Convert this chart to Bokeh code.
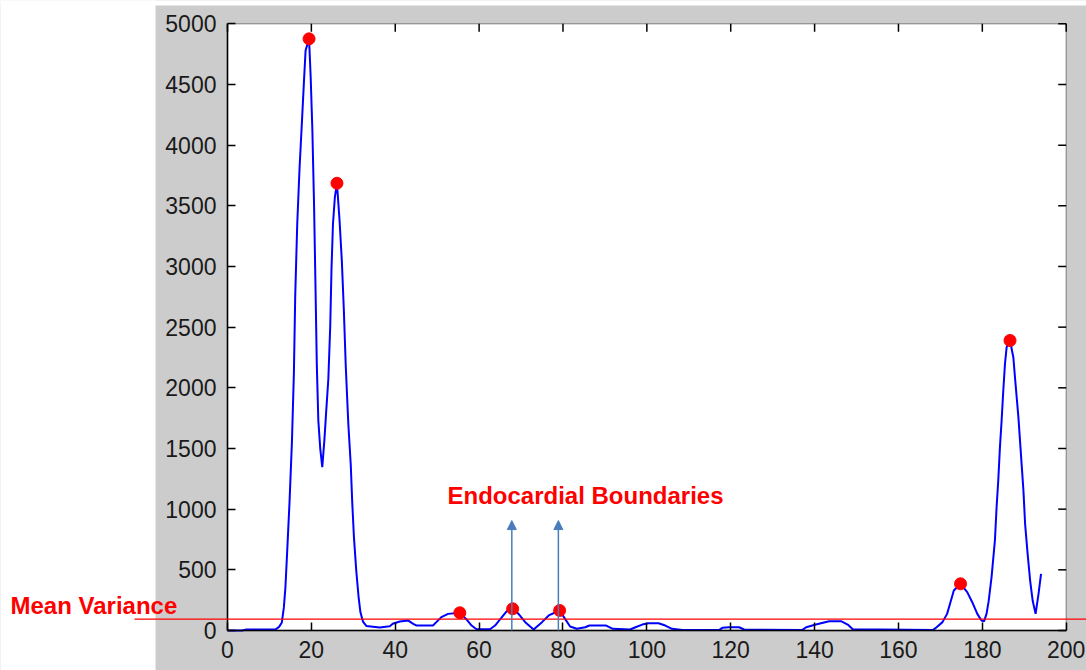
from bokeh.plotting import figure
from bokeh.models import FixedTicker, Range1d, BoxAnnotation, Label, Arrow, NormalHead
from bokeh.embed import file_html
from bokeh.resources import INLINE

# ---- data ----
curve_x = [0, 3.5, 4.5, 8, 11.5, 12.3, 12.96, 13.44, 13.82, 14.23, 14.78, 15.36, 15.84, 16.15,
           16.63, 17.18, 17.76, 18.24, 18.62, 19.45, 19.83, 20.24, 20.65, 21.0, 21.3, 21.66,
           22.14, 22.6, 23.1, 23.5, 24.05, 24.5, 24.8, 25.15, 25.6, 26.1, 26.7, 27.26, 27.74,
           28.2, 28.8, 29.4, 29.74, 30.15, 30.7, 31.25, 31.7, 32.3, 33.1, 36.3, 38.7, 39.4,
           41.1, 43.1, 44.3, 45.1, 49.0, 49.8, 51.0, 52.6, 55.4, 57.0, 58.2, 59.4, 62.6, 63.8,
           65.0, 66.6, 68.0, 69.4, 71.0, 73.0, 75.0, 76.6, 79.2, 80.5, 81.7, 83.3, 85.3, 86.3,
           90.3, 91.9, 96.0, 97.3, 98.9, 100.4, 102.8, 104.4, 106.0, 108.5, 117.3, 118.0,
           119.6, 122.0, 123.2, 137.1, 138.0, 140.3, 143.5, 146.3, 147.9, 149.1, 168.3, 169.1,
           170.5, 171.6, 172.4, 173.2, 174.8, 176.4, 177.6, 178.8, 179.8, 180.4, 181.0, 181.5,
           182.2, 183.0, 183.4, 183.8, 184.2, 184.6, 185.0, 185.4, 185.8, 186.6, 187.4, 187.8,
           188.6, 189.2, 189.8, 190.2, 190.8, 191.4, 192.0, 192.7, 193.4, 194.0]
curve_y = [0, 0, 8, 8, 10, 30, 66, 190, 360, 650, 1050, 1550, 2130, 2760,
           3350, 3810, 4200, 4530, 4780, 4876, 4565, 4120, 3490, 2800, 2185, 1730,
           1490, 1346, 1567, 1785, 2075, 2510, 2980, 3350, 3570, 3686, 3390, 3050, 2645,
           2180, 1710, 1360, 1060, 770, 495, 280, 150, 74, 38, 25, 35, 55,
           74, 82, 55, 41, 41, 69, 110, 137, 146, 91, 41, 10, 10, 41,
           91, 160, 179, 137, 69, 8, 69, 124, 165, 96, 33, 14, 27, 41,
           41, 14, 8, 27, 49, 60, 60, 41, 14, 5, 5, 22,
           27, 27, 8, 5, 27, 49, 77, 77, 49, 11, 5, 27,
           69, 137, 233, 330, 385, 316, 233, 137, 82, 75, 137, 240,
           440, 742, 1016, 1236, 1511, 1731, 1978, 2198, 2335, 2390, 2250, 2080,
           1758, 1456, 1154, 879, 632, 412, 247, 137, 302, 467]
peak_x = [19.45, 26.1, 55.4, 68.0, 79.2, 174.8, 186.6]
peak_y = [4876, 3686, 146, 179, 165, 385, 2390]
mean_variance = 94
boundary_x = [67.8, 78.9]
boundary_top = 906
x_ticks = list(range(0, 201, 20))
y_ticks = list(range(0, 5001, 500))

# ---- layout (pixels) ----
W, H = 1086, 670
PL, PR, PT, PB = 227.0, 1065.7, 23.3, 630.0   # white axes box
X0, X1, Y0, Y1 = 0, 200, 0, 5000
sx = (PR - PL) / (X1 - X0)
sy = (PB - PT) / (Y1 - Y0)
x_start, x_end = X0 - PL / sx, X1 + (W - PR) / sx
y_start, y_end = Y0 - (H - PB) / sy, Y1 + PT / sy


def px_x(px):
    return X0 + (px - PL) / sx


def px_y(py):
    return Y0 + (PB - py) / sy


GRAY = "#cccccc"
FONT = "Liberation Sans"

p = figure(width=W, height=H, output_backend="svg", toolbar_location=None,
           x_range=Range1d(x_start, x_end), y_range=Range1d(y_start, y_end),
           min_border_left=0, min_border_right=0, min_border_top=0, min_border_bottom=0,
           border_fill_color=GRAY, background_fill_color=GRAY, outline_line_color=None)
p.grid.visible = False

# white page areas (left strip and thin top strip) and the white axes box
p.add_layout(BoxAnnotation(left=x_start - 10, right=px_x(155), bottom=y_start - 500, top=y_end + 500,
                           fill_color="white", fill_alpha=1.0, line_color=None, level="underlay"))
p.add_layout(BoxAnnotation(left=x_start - 10, right=x_end + 10, bottom=px_y(5), top=y_end + 500,
                           fill_color="white", fill_alpha=1.0, line_color=None, level="underlay"))
p.add_layout(BoxAnnotation(left=X0, right=X1, bottom=Y0, top=Y1,
                           fill_color="white", fill_alpha=1.0, line_color="#000000",
                           line_width=1.5, level="underlay"))


def style_axis(ax, ticks, bounds, standoff):
    ax.fixed_location = 0
    ax.bounds = bounds
    ax.ticker = FixedTicker(ticks=ticks)
    ax.major_tick_in = 8
    ax.major_tick_out = 0
    ax.minor_tick_line_color = None
    ax.axis_line_color = "#000000"
    ax.axis_line_width = 1.5
    ax.major_tick_line_color = "#000000"
    ax.major_tick_line_width = 1.5
    ax.major_label_text_font = FONT
    ax.major_label_text_font_size = "23px"
    ax.major_label_text_color = "#1a1a1a"
    ax.major_label_standoff = standoff


style_axis(p.xaxis[0], x_ticks, (X0, X1), 10)
style_axis(p.yaxis[0], y_ticks, (Y0, Y1), 11)

# mirrored (inside) ticks on the top and right edges of the box
tick_dx, tick_dy = 8 / sx, 8 / sy
p.segment(x0=x_ticks, y0=[Y1] * len(x_ticks), x1=x_ticks, y1=[Y1 - tick_dy] * len(x_ticks),
          line_color="#000000", line_width=1.5)
p.segment(x0=[X1] * len(y_ticks), y0=y_ticks, x1=[X1 - tick_dx] * len(y_ticks), y1=y_ticks,
          line_color="#000000", line_width=1.5)

p.line(curve_x, curve_y, line_color="#0000ff", line_width=2)
p.scatter(peak_x, peak_y, size=12, color="#ff0000")

# mean variance line and label
p.add_layout(Arrow(end=None, x_start=px_x(134), y_start=mean_variance, x_end=x_end + 5,
                   y_end=mean_variance, line_color="#ff0000", line_width=1.2))
p.add_layout(Label(x=px_x(10), y=px_y(605), text="Mean Variance", text_font=FONT,
                   text_font_style="bold", text_font_size="24px", text_color="#ff0000",
                   text_baseline="alphabetic"))

for bx in boundary_x:
    p.add_layout(Arrow(end=NormalHead(size=9, fill_color="#4a7ebb", line_color="#4a7ebb"),
                       x_start=bx, y_start=0, x_end=bx, y_end=boundary_top,
                       line_color="#4a7ebb", line_width=1.5))
p.add_layout(Label(x=px_x(447), y=px_y(494.5), text="Endocardial Boundaries", text_font=FONT,
                   text_font_style="bold", text_font_size="24px", text_color="#ff0000",
                   text_baseline="alphabetic"))

open("out.html", "w").write(file_html(p, INLINE))
